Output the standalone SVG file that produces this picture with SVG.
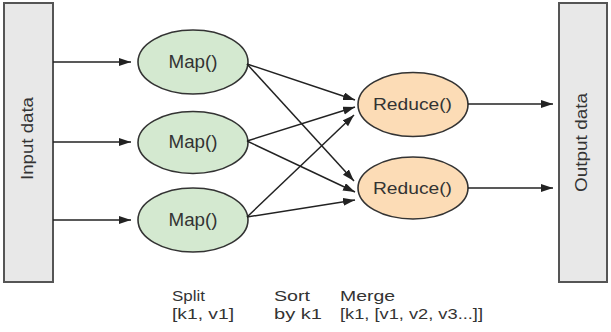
<svg xmlns="http://www.w3.org/2000/svg" width="611" height="332" viewBox="0 0 611 332">
<style>
.box{fill:#e8e8e8;stroke:#555;stroke-width:2}
.map{fill:#d4e9d0;stroke:#333;stroke-width:1.6}
.red{fill:#fcdcb6;stroke:#333;stroke-width:1.6}
.lbl{font-family:"Liberation Sans",Arial,sans-serif;fill:#333}
.conn line{stroke:#222;stroke-width:1.5;marker-end:url(#ah)}
</style>
<defs>
<marker id="ah" markerUnits="userSpaceOnUse" markerWidth="13" markerHeight="9" refX="12" refY="4" orient="auto">
<path d="M0,0 L12,4 L0,8 z" fill="#222"/>
</marker>
</defs>
<rect width="611" height="332" fill="#fff"/>
<g id="input">
<rect class="box" x="4" y="3" width="49" height="279"/>
<text class="lbl" font-size="16.5" text-anchor="middle" textLength="83" lengthAdjust="spacingAndGlyphs" transform="translate(33,138.5) rotate(-90)">Input data</text>
</g>
<g id="output">
<rect class="box" x="559" y="3" width="48" height="279"/>
<text class="lbl" font-size="16.5" text-anchor="middle" textLength="99" lengthAdjust="spacingAndGlyphs" transform="translate(587,142.5) rotate(-90)">Output data</text>
</g>
<g id="map1">
<ellipse class="map" cx="193" cy="62" rx="55" ry="32"/>
<text class="lbl" x="193" y="68" font-size="17.5" text-anchor="middle" textLength="49" lengthAdjust="spacingAndGlyphs">Map()</text>
</g>
<g id="map2">
<ellipse class="map" cx="193" cy="142.5" rx="55" ry="31"/>
<text class="lbl" x="193" y="148" font-size="17.5" text-anchor="middle" textLength="49" lengthAdjust="spacingAndGlyphs">Map()</text>
</g>
<g id="map3">
<ellipse class="map" cx="193" cy="220" rx="55" ry="32"/>
<text class="lbl" x="193" y="226" font-size="17.5" text-anchor="middle" textLength="49" lengthAdjust="spacingAndGlyphs">Map()</text>
</g>
<g id="reduce1">
<ellipse class="red" cx="413" cy="104.5" rx="55" ry="32"/>
<text class="lbl" x="412.5" y="110" font-size="17" text-anchor="middle" textLength="79" lengthAdjust="spacingAndGlyphs">Reduce()</text>
</g>
<g id="reduce2">
<ellipse class="red" cx="413" cy="188" rx="55" ry="31"/>
<text class="lbl" x="412.5" y="194" font-size="17" text-anchor="middle" textLength="79" lengthAdjust="spacingAndGlyphs">Reduce()</text>
</g>
<g id="connectors" class="conn">
<line x1="53" y1="62" x2="131" y2="62"/>
<line x1="53" y1="142" x2="131" y2="142"/>
<line x1="53" y1="220" x2="131" y2="220"/>
<line x1="247" y1="64" x2="355" y2="100"/>
<line x1="247" y1="64" x2="354" y2="181"/>
<line x1="247" y1="141" x2="355" y2="107"/>
<line x1="247" y1="141" x2="355" y2="192"/>
<line x1="247" y1="217" x2="354" y2="115"/>
<line x1="247" y1="217" x2="355" y2="200"/>
<line x1="468" y1="104" x2="553" y2="104"/>
<line x1="468" y1="188" x2="553" y2="188"/>
</g>
<g id="notes" class="lbl" font-size="14.5">
<text x="172" y="301" textLength="33" lengthAdjust="spacingAndGlyphs">Split</text>
<text x="172" y="319" textLength="62" lengthAdjust="spacingAndGlyphs">[k1, v1]</text>
<text x="274" y="301" textLength="36" lengthAdjust="spacingAndGlyphs">Sort</text>
<text x="274" y="319" textLength="48" lengthAdjust="spacingAndGlyphs">by k1</text>
<text x="340" y="301" textLength="55" lengthAdjust="spacingAndGlyphs">Merge</text>
<text x="340" y="319" textLength="143" lengthAdjust="spacingAndGlyphs">[k1, [v1, v2, v3...]]</text>
</g>
</svg>
